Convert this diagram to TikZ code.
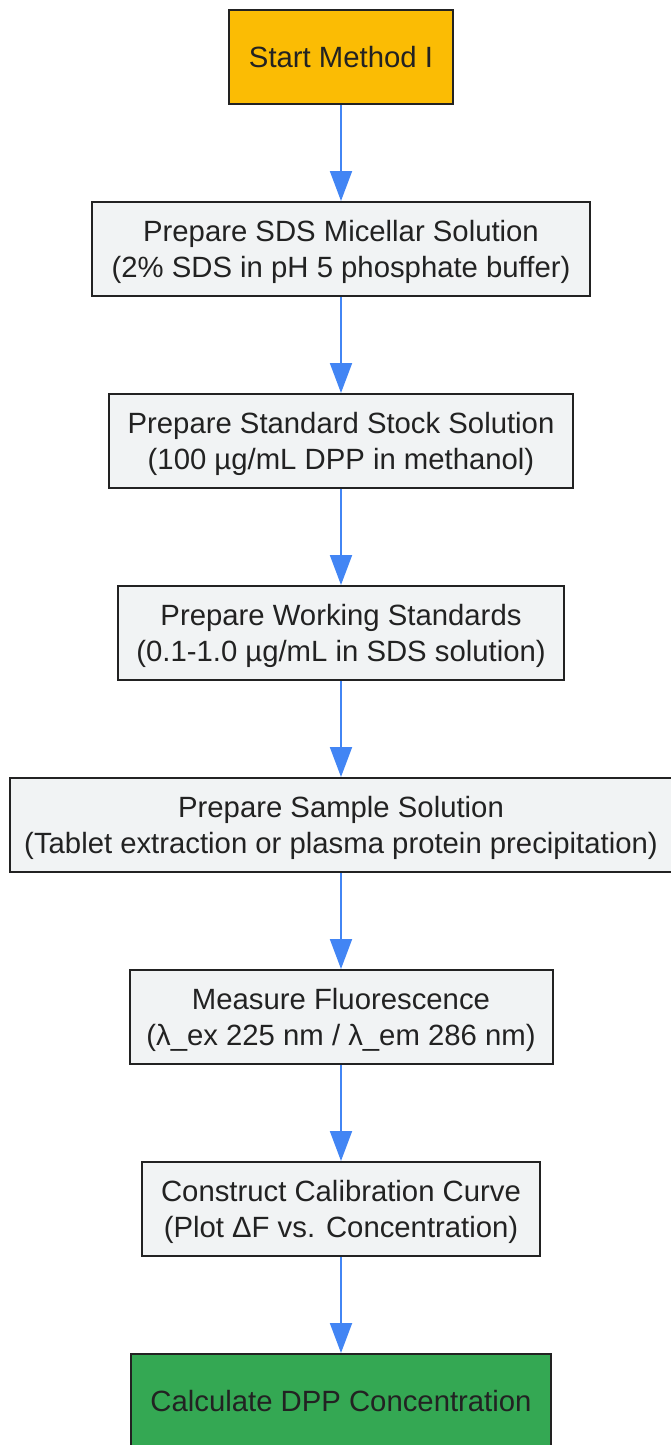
\documentclass[tikz,border=0pt]{standalone}
\usepackage{fontspec}
\setmainfont{Liberation Sans}
\usetikzlibrary{arrows.meta}
\definecolor{startfill}{HTML}{FBBC04}
\definecolor{endfill}{HTML}{34A853}
\definecolor{stepfill}{HTML}{F1F3F4}
\definecolor{edgeline}{HTML}{222222}
\definecolor{flowblue}{HTML}{4285F4}
\definecolor{txt}{HTML}{222222}
\tikzset{
  box/.style={draw=edgeline, line width=2pt, fill=stepfill, rectangle, inner sep=0pt,
    minimum height=94pt, align=center, text=txt, text depth=0pt,
    font=\fontsize{29.3pt}{36pt}\selectfont},
  startbox/.style={box, fill=startfill},
  endbox/.style={box, fill=endfill},
  flow/.style={draw=flowblue, line width=2pt, -{Triangle[width=22pt,length=30pt]}}
}
\begin{document}
\begin{tikzpicture}[x=1pt,y=-1pt]
\useasboundingbox (0,0) rectangle (670,1445);
\node[startbox, minimum width=224pt] (n1) at (341,57) {Start Method I};
\node[box, minimum width=498pt] (n2) at (341,249) {Prepare SDS Micellar Solution\\(2\% SDS in pH 5 phosphate buffer)};
\node[box, minimum width=464pt] (n3) at (341,441) {Prepare Standard Stock Solution\\(100 µg/mL DPP in methanol)};
\node[box, minimum width=446pt] (n4) at (341,633) {Prepare Working Standards\\(0.1-1.0 µg/mL in SDS solution)};
\node[box, minimum width=662pt] (n5) at (341,825) {Prepare Sample Solution\\(Tablet extraction or plasma protein precipitation)};
\node[box, minimum width=423pt] (n6) at (341,1017) {Measure Fluorescence\\(λ\_ex 225 nm / λ\_em 286 nm)};
\node[box, minimum width=398pt] (n7) at (341,1209) {Construct Calibration Curve\\(Plot ΔF vs. Concentration)};
\node[endbox, minimum width=420pt] (n8) at (341,1401) {Calculate DPP Concentration};
\foreach \a/\b in {n1/n2,n2/n3,n3/n4,n4/n5,n5/n6,n6/n7,n7/n8}
  \draw[flow] (\a) -- (\b);
\end{tikzpicture}
\end{document}
